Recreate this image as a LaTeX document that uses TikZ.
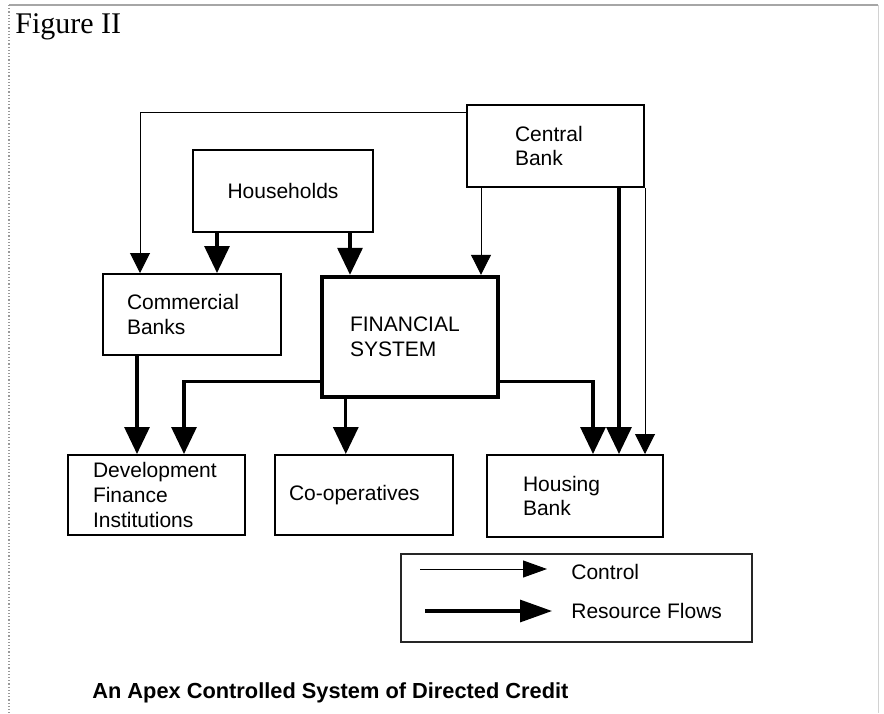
\documentclass[tikz,border=0pt]{standalone}
\usepackage{fontspec}
\setsansfont{Liberation Sans}
\newfontfamily\headserif{Liberation Serif}
\usetikzlibrary{arrows.meta,calc}
\begin{document}
\begin{tikzpicture}[x=0.5pt,y=-0.5pt,
  lbl/.style={font=\sffamily\fontsize{10.5}{12.4}\selectfont},
  box/.style={lbl, draw, rectangle, line width=1pt, inner ysep=0pt, align=left},
  bigbox/.style={box, line width=2.2pt},
  ctrl/.style={line width=0.5pt, -{Triangle[length=10pt,width=10pt]}},
  flow/.style={line width=1.6pt, -{Triangle[length=13.5pt,width=12.5pt]}},
  ctrlkey/.style={line width=0.5pt, -{Triangle[length=12pt,width=8.5pt]}},
  flowkey/.style={line width=1.6pt, -{Triangle[length=16pt,width=11pt]}},
]
\useasboundingbox (0,0) rectangle (884,713);

% page frame
\draw[gray!70, line width=0.6pt] (9,5) -- (878,5);
\draw[gray!80, line width=0.6pt, densely dotted] (9,5) -- (9,713);
\draw[gray!35, line width=0.5pt] (878,5) -- (878,713);

\node[anchor=base west, inner sep=0pt, font=\headserif\fontsize{15}{17}\selectfont] (fig) at (15,33) {Figure II};

% institutions
\node[box, minimum width=88.5pt, minimum height=41pt, text width=40.5pt, inner xsep=24pt]
  (cb) at (555.5,146) {Central\\Bank};
\node[box, minimum width=90pt, minimum height=41pt, align=center]
  (hh) at (283,191) {Households};
\node[box, minimum width=89pt, minimum height=40.5pt, text width=65pt, inner xsep=12pt]
  (cbk) at (192,314.5) {Commercial\\Banks};
\node[bigbox, minimum width=88pt, minimum height=60pt, text width=60pt, inner xsep=14pt]
  (fs) at (410,337) {FINANCIAL\\SYSTEM};
\node[box, minimum width=88.5pt, minimum height=40pt, text width=63.5pt, inner xsep=12.5pt]
  (dfi) at (156.5,495) {Development\\Finance\\Institutions};
\node[box, minimum width=89pt, minimum height=40pt, text width=75pt, inner xsep=7pt]
  (coop) at (364,495) {Co-operatives};
\node[box, minimum width=88pt, minimum height=41pt, text width=52pt, inner xsep=18pt]
  (hb) at (575,496) {Housing\\Bank};

% connector end points
\coordinate (k1) at ($(cb.north west)+(0,8)$);
\coordinate (k1t) at ($(cbk.north west)+(38,0)$);
\coordinate (k2) at ($(cb.south west)+(15,0)$);
\coordinate (r1) at ($(hh.south west)+(25,0)$);
\coordinate (r2) at ($(hh.south west)+(158,0)$);
\coordinate (r3) at ($(cbk.south west)+(35,0)$);
\coordinate (r4) at ($(fs.south west)+(0,-18)$);
\coordinate (r4t) at ($(dfi.north west)+(117,0)$);
\coordinate (r5) at ($(fs.south west)+(26,0)$);
\coordinate (r6) at ($(fs.south east)+(0,-18)$);
\coordinate (r6t) at ($(hb.north west)+(107,0)$);
\coordinate (r7) at ($(cb.south west)+(153,0)$);

% control links
\draw[ctrl] (k1) -| (k1t);
\draw[ctrl] (k2) -- (k2 |- fs.north);
\draw[ctrl] (cb.south east) -- (cb.south east |- hb.north);

% resource flows
\draw[flow] (r1) -- (r1 |- cbk.north);
\draw[flow] (r2) -- (r2 |- fs.north);
\draw[flow] (r3) -- (r3 |- dfi.north);
\draw[flow] (r4) -| (r4t);
\draw[flow] (r5) -- (r5 |- coop.north);
\draw[flow] (r6) -| (r6t);
\draw[flow] (r7) -- (r7 |- hb.north);

% key
\node[draw, line width=0.6pt, black!85, minimum width=175.5pt, minimum height=44pt] (key) at (576.5,598) {};
\coordinate (ka) at (420,569);
\coordinate (kb) at (547,569);
\coordinate (kc) at (425,611);
\coordinate (kd) at (552,611);
\draw[ctrlkey] (ka) -- (kb);
\draw[flowkey] (kc) -- (kd);
\node[lbl, anchor=base west, inner sep=0pt] (kl1) at (571,579) {Control};
\node[lbl, anchor=base west, inner sep=0pt] (kl2) at (571,618) {Resource Flows};

\node[anchor=base west, inner sep=0pt, font=\sffamily\bfseries\fontsize{10.9}{13}\selectfont]
  (title) at (92,698) {An Apex Controlled System of Directed Credit};
\end{tikzpicture}
\end{document}
